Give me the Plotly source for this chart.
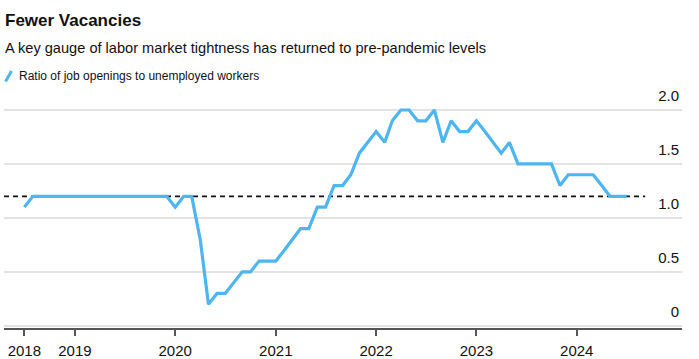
import plotly.graph_objects as go

# ---- data ----
months = [f"{y}-{m:02d}-01" for y in range(2018, 2025) for m in range(1, 13)]
months = [d for d in months if "2018-07-01" <= d <= "2024-07-01"]

ratio = (
    [1.1, 1.2, 1.2, 1.2, 1.2, 1.2]                                   # 2018 Jul-Dec
    + [1.2] * 12                                                     # 2019
    + [1.1, 1.2, 1.2, 0.8, 0.2, 0.3, 0.3, 0.4, 0.5, 0.5, 0.6, 0.6]   # 2020
    + [0.6, 0.7, 0.8, 0.9, 0.9, 1.1, 1.1, 1.3, 1.3, 1.4, 1.6, 1.7]   # 2021
    + [1.8, 1.7, 1.9, 2.0, 2.0, 1.9, 1.9, 2.0, 1.7, 1.9, 1.8, 1.8]   # 2022
    + [1.9, 1.8, 1.7, 1.6, 1.7, 1.5, 1.5, 1.5, 1.5, 1.5, 1.3, 1.4]   # 2023
    + [1.4, 1.4, 1.4, 1.3, 1.2, 1.2, 1.2]                            # 2024 Jan-Jul
)

ref_level = 1.2
ref_dates = ["2018-04-18", "2024-09-06"]

x_tickvals = ["2018-07-01", "2019-01-01", "2020-01-01", "2021-01-01",
              "2022-01-01", "2023-01-01", "2024-01-01"]
x_ticktext = ["2018", "2019", "2020", "2021", "2022", "2023", "2024"]
y_tickvals = [0, 0.5, 1.0, 1.5, 2.0]
y_ticktext = ["0", "0.5", "1.0", "1.5", "2.0"]

title = "Fewer Vacancies"
subtitle = "A key gauge of labor market tightness has returned to pre-pandemic levels"
legend_label = "Ratio of job openings to unemployed workers"

# ---- figure ----
W, H = 699, 359
Y0, Y1 = -0.02, 2.25
UNIT = 108.0
ML, MR, MB = 4, 17, 31
PH = round((Y1 - Y0) * UNIT)
MT = H - MB - PH
PW = W - ML - MR

def px_x(p):
    return (p - ML) / PW

def px_y(p):
    return (H - MB - p) / PH

LINE = "#4db5f0"
TEXT = "#111111"
REG = "Liberation Sans, Arial, sans-serif"

fig = go.Figure()
fig.add_trace(go.Scatter(
    x=ref_dates, y=[ref_level, ref_level], mode="lines",
    line=dict(color="#111111", width=1.6, dash="5px,4px"),
    showlegend=False, hoverinfo="skip",
))
fig.add_trace(go.Scatter(
    x=months, y=ratio, mode="lines",
    line=dict(color=LINE, width=3.2),
    name=legend_label, showlegend=False,
))

fig.update_layout(
    template="none",
    width=W, height=H,
    margin=dict(l=ML, r=MR, t=MT, b=MB, pad=0, autoexpand=False),
    paper_bgcolor="white", plot_bgcolor="white",
    font=dict(family=REG, color=TEXT, size=15),
    showlegend=False,
    xaxis=dict(
        type="date", range=["2018-04-18", "2025-01-18"], automargin=False,
        tickvals=x_tickvals, ticktext=x_ticktext,
        showgrid=False, zeroline=False,
        showline=True, linecolor="#555555", linewidth=1.5,
        ticks="outside", ticklen=6, tickwidth=1.5, tickcolor="#555555",
        ticklabelstandoff=2,
        tickfont=dict(size=15, color=TEXT, family=REG),
    ),
    yaxis=dict(
        range=[Y0, Y1], side="right", automargin=False,
        tickvals=y_tickvals, ticktext=y_ticktext,
        ticklabelposition="inside top", ticklabelshift=-4,
        showgrid=True, gridcolor="#e3e3e3", gridwidth=1.5,
        zeroline=False, showline=False, ticks="",
        tickfont=dict(size=15, color=TEXT, family=REG),
    ),
    annotations=[
        dict(text=f"<b>{title}</b>", xref="paper", yref="paper",
             x=px_x(3), y=px_y(20), xanchor="left", yanchor="middle",
             showarrow=False, font=dict(size=17, family=REG, color=TEXT)),
        dict(text=subtitle, xref="paper", yref="paper",
             x=px_x(3), y=px_y(48), xanchor="left", yanchor="middle",
             showarrow=False, font=dict(size=14.6, family=REG, color=TEXT)),
        dict(text=legend_label, xref="paper", yref="paper",
             x=px_x(17), y=px_y(76), xanchor="left", yanchor="middle",
             showarrow=False, font=dict(size=12, family=REG, color=TEXT)),
    ],
    shapes=[
        dict(type="line", xref="paper", yref="paper",
             x0=px_x(5.5), y0=px_y(81.5), x1=px_x(11.5), y1=px_y(71),
             line=dict(color=LINE, width=3)),
    ],
)

fig.write_html("out.html", config={"displayModeBar": False},
               post_script="document.body.style.margin='0';")
